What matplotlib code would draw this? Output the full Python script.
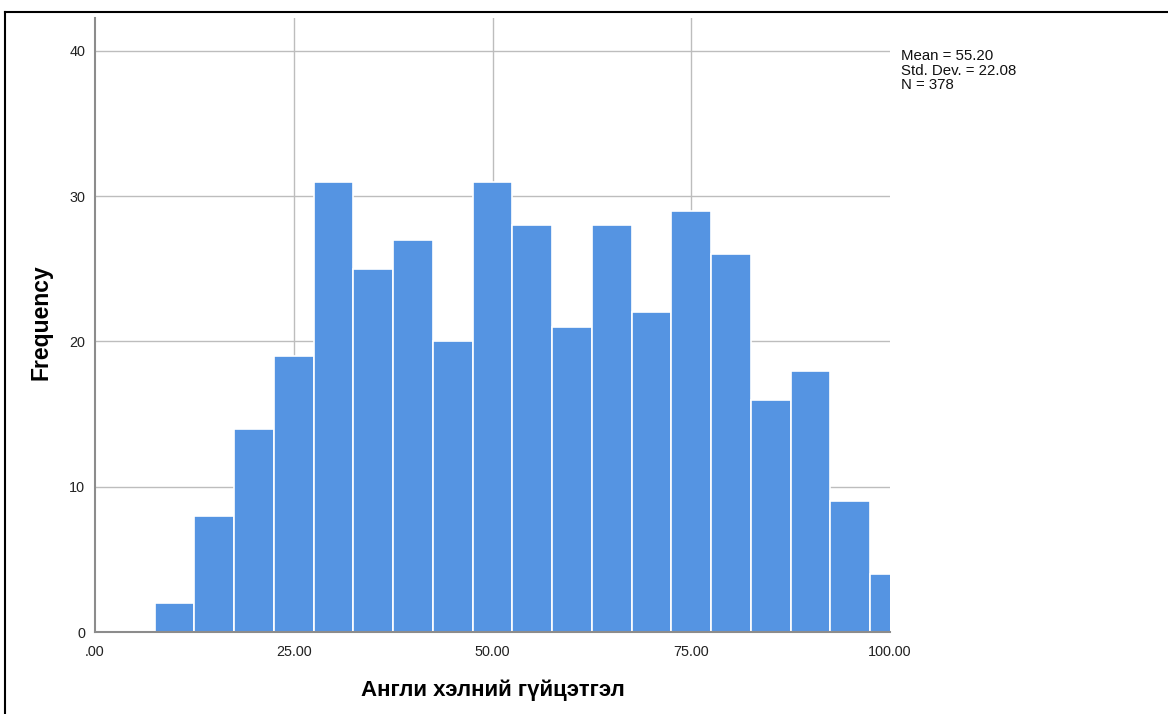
import matplotlib
matplotlib.use('Agg')
import matplotlib.pyplot as plt
from matplotlib.lines import Line2D

# bin edges (5-unit wide, starting at 7.5) and counts
bin_left = [7.5, 12.5, 17.5, 22.5, 27.5, 32.5, 37.5, 42.5, 47.5, 52.5,
            57.5, 62.5, 67.5, 72.5, 77.5, 82.5, 87.5, 92.5, 97.5]
counts = [2, 8, 14, 19, 31, 25, 27, 20, 31, 28,
          21, 28, 22, 29, 26, 16, 18, 9, 4]
bin_width = 5.0
x_ticks = [0, 25, 50, 75, 100]
x_ticklabels = [".00", "25.00", "50.00", "75.00", "100.00"]
y_ticks = [0, 10, 20, 30, 40]
stats = ["Mean = 55.20", "Std. Dev. = 22.08", "N = 378"]

plt.rcParams['font.family'] = ['Liberation Sans', 'DejaVu Sans']

fig = plt.figure(figsize=(11.68, 7.14), dpi=100)
ax = fig.add_axes([95/1168, 1 - 632/714, (890-95)/1168, (632-18)/714])

ax.bar(bin_left, counts, width=bin_width, align='edge', color='#5594E2',
       edgecolor='white', linewidth=1.2, zorder=3, clip_on=True)

ax.set_xlim(0, 100)
ax.set_ylim(0, 42.27)
ax.set_xticks(x_ticks)
ax.set_xticklabels(x_ticklabels)
ax.set_yticks(y_ticks)
ax.tick_params(length=0, labelsize=10.4, colors='#222222')
ax.tick_params(axis='x', pad=9)
ax.tick_params(axis='y', pad=7)

# grid: horizontal at y ticks > 0, vertical only at interior x ticks
for y in y_ticks[1:]:
    ax.axhline(y, color='#BDBDBD', linewidth=1, zorder=1)
for x in x_ticks[1:-1]:
    ax.axvline(x, color='#BDBDBD', linewidth=1, zorder=1)

for side in ('top', 'right'):
    ax.spines[side].set_visible(False)
for side in ('left', 'bottom'):
    ax.spines[side].set_color('#8C8C8C')
    ax.spines[side].set_linewidth(1.5)
    ax.spines[side].set_zorder(4)

fig.text(41/1168, 1 - 322/714, "Frequency", fontsize=16.5, fontweight='bold',
         rotation=90, ha='center', va='center')
fig.text(493/1168, 1 - 690/714, "Англи хэлний гүйцэтгэл", fontsize=16,
         fontweight='bold', ha='center', va='center')

fig.text(901/1168, 1 - 49/714, "\n".join(stats), fontsize=10.8,
         ha='left', va='top', linespacing=1.05, color='#111111')

# outer frame (partly cut off at right and bottom edges)
fig.add_artist(Line2D([5/1168, 1.01], [1 - 12/714] * 2, color='black',
                      linewidth=1.5, transform=fig.transFigure))
fig.add_artist(Line2D([5/1168] * 2, [1 - 12/714, -0.01], color='black',
                      linewidth=1.5, transform=fig.transFigure))

fig.savefig("out.png", dpi=100)
plt.close(fig)
